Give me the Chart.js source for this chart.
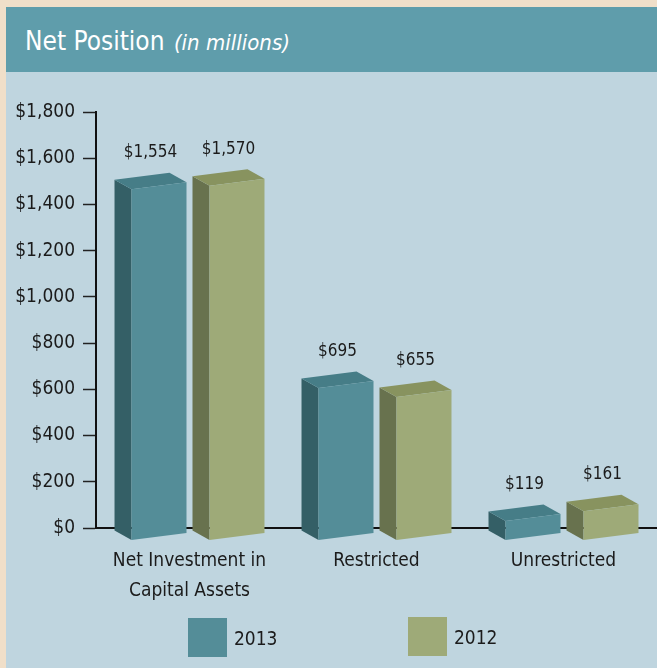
<!DOCTYPE html>
<html>
<head>
<meta charset="utf-8">
<title>Net Position</title>
<script src="https://cdn.jsdelivr.net/npm/chart.js@4.4.0/dist/chart.umd.min.js"></script>
<style>
    html, body { margin: 0; padding: 0; }
    body {
        width: 657px;
        height: 668px;
        background: #f0dfc9;
        position: relative;
        overflow: hidden;
        font-family: "Liberation Sans Narrow", "DejaVu Sans Condensed", "Liberation Sans", sans-serif;
    }
    .panel {
        position: absolute;
        left: 6px;
        top: 7px;
        width: 651px;
        height: 661px;
        background: #bfd5df;
    }
    .header {
        height: 65px;
        background: #5f9dab;
        color: #fff;
        font-size: 26px;
        line-height: 68px;
        padding-left: 19px;
        box-sizing: border-box;
    }
    .header em { font-size: 22px; margin-left: 2px; }
    .chart-wrap {
        position: absolute;
        left: 0;
        top: 65px;
        width: 651px;
        height: 596px;
    }
    .legend-item {
        position: absolute;
        display: flex;
        align-items: center;
        font-size: 19px;
        color: #1b1b1b;
    }
    .legend-item span.box {
        display: inline-block;
        width: 39px;
        height: 39px;
        margin-right: 7px;
    }
</style>
</head>
<body>
<div class="panel">
    <div class="header">Net Position <em>(in millions)</em></div>
    <div class="chart-wrap"><canvas id="netChart" width="651" height="596"></canvas></div>
    <div class="legend-item" style="left:182px; top:611px;"><span class="box" style="background:#548d98"></span>2013</div>
    <div class="legend-item" style="left:402px; top:610px;"><span class="box" style="background:#9eaa78"></span>2012</div>
</div>

<script>
// Data
const categories = [['Net Investment in', 'Capital Assets'], 'Restricted', 'Unrestricted'];
const years = ['2013', '2012'];
const values2013 = [1554, 695, 119];
const values2012 = [1570, 655, 161];
const yMin = 0;
const yMax = 1800;
const yStep = 200;

const FONT = '"Liberation Sans Narrow", "DejaVu Sans Condensed", "Liberation Sans", sans-serif';
const TEXT = '#1b1b1b';

// fake 3D look: depth goes up-left, front face slightly skewed
const DX = 17, DY = 9.5, SKEW = 7;
const DROP_TOP = 17, DROP_BASE = 9;

function poly(ctx, pts, color) {
    ctx.beginPath();
    ctx.moveTo(pts[0][0], pts[0][1]);
    for (let k = 1; k < pts.length; k++) ctx.lineTo(pts[k][0], pts[k][1]);
    ctx.closePath();
    ctx.fillStyle = color;
    ctx.fill();
}

const bar3d = {
    id: 'bar3d',
    afterDatasetsDraw(chart) {
        const ctx = chart.ctx;
        ctx.save();
        chart.data.datasets.forEach((ds, i) => {
            const meta = chart.getDatasetMeta(i);
            meta.data.forEach((bar, j) => {
                const { x, y, base, width } = bar.getProps(['x', 'y', 'base', 'width'], true);
                const L = x - width / 2 + DX;
                const R = x + width / 2;
                const top = y + DROP_TOP;
                const bot = base + DROP_BASE;
                const s = SKEW / 2;
                // side
                poly(ctx, [[L, top + s], [L, bot + s], [L - DX, bot + s - DY], [L - DX, top + s - DY]], ds.sideColor);
                // top
                poly(ctx, [[L, top + s], [R, top - s], [R - DX, top - s - DY], [L - DX, top + s - DY]], ds.topColor);
                // front
                poly(ctx, [[L, top + s], [R, top - s], [R, bot - s], [L, bot + s]], ds.frontColor);
                // value label
                ctx.fillStyle = TEXT;
                ctx.font = '17px ' + FONT;
                ctx.textAlign = 'center';
                ctx.textBaseline = 'middle';
                ctx.fillText('$' + ds.data[j].toLocaleString('en-US'), x, top - 33);
            });
        });
        ctx.restore();
    }
};

Chart.defaults.font.family = FONT;
Chart.defaults.color = TEXT;

new Chart(document.getElementById('netChart').getContext('2d'), {
    type: 'bar',
    data: {
        labels: categories,
        datasets: [{
            label: years[0],
            data: values2013,
            backgroundColor: 'rgba(0,0,0,0)',
            frontColor: '#548d98',
            topColor: '#467d87',
            sideColor: '#345f66'
        }, {
            label: years[1],
            data: values2012,
            backgroundColor: 'rgba(0,0,0,0)',
            frontColor: '#9eaa78',
            topColor: '#88935f',
            sideColor: '#68724e'
        }]
    },
    options: {
        responsive: false,
        animation: false,
        categoryPercentage: 0.834,
        barPercentage: 0.923,
        layout: {
            padding: { top: 40, right: 0, left: 0, bottom: 0 }
        },
        plugins: {
            legend: { display: false },
            tooltip: { enabled: false }
        },
        scales: {
            y: {
                min: yMin,
                max: yMax,
                afterFit: s => { s.width = 90; },
                ticks: {
                    stepSize: yStep,
                    padding: 8,
                    color: TEXT,
                    font: { size: 19 },
                    callback: v => '$' + v.toLocaleString('en-US')
                },
                grid: {
                    drawOnChartArea: false,
                    drawTicks: true,
                    tickLength: 13,
                    tickWidth: 1.5,
                    tickColor: '#222'
                },
                border: { color: '#111', width: 2 }
            },
            x: {
                afterFit: s => { s.height = 140; },
                ticks: {
                    color: TEXT,
                    padding: 18,
                    maxRotation: 0,
                    autoSkip: false,
                    font: { size: 19, lineHeight: '30px' }
                },
                grid: {
                    drawOnChartArea: false,
                    drawTicks: false
                },
                border: { color: '#111', width: 2 }
            }
        }
    },
    plugins: [bar3d]
});
</script>
</body>
</html>
